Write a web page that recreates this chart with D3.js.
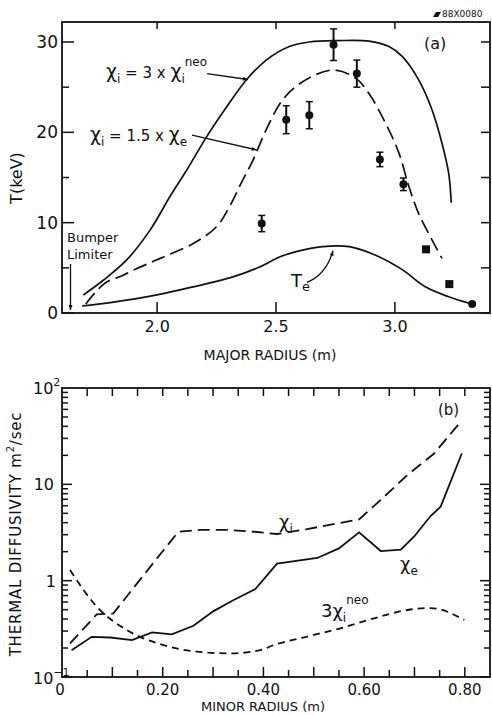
<!DOCTYPE html>
<html>
<head>
<meta charset="utf-8">
<script src="https://cdn.jsdelivr.net/npm/d3@7"></script>
<style>
body { margin: 0; background: #fff; }
svg text { font-family: "DejaVu Sans", sans-serif; fill: #111; }
</style>
</head>
<body>
<svg width="492" height="715"></svg>
<script>

// ---- panel (a): temperature profiles vs major radius ----
var rNeo3 = [1.69, 1.775, 1.873, 1.971, 2.054, 2.124, 2.208, 2.292, 2.375, 2.459, 2.556, 2.64, 2.76, 2.891, 2.975, 3.031, 3.10, 3.156, 3.198, 3.226, 3.237];
var tNeo3 = [2.0, 3.65, 5.9, 9.2, 12.9, 15.8, 19.5, 22.8, 25.8, 28.0, 29.5, 30.0, 30.15, 30.1, 29.5, 28.4, 25.8, 22.5, 18.8, 15.5, 12.2];

var rChiE = [1.70, 1.78, 1.85, 1.901, 2.013, 2.152, 2.25, 2.305, 2.354, 2.403, 2.459, 2.528, 2.612, 2.738, 2.835, 2.891, 2.961, 3.017, 3.059, 3.10, 3.156, 3.198];
var tChiE = [1.0, 3.3, 4.1, 4.75, 6.05, 7.7, 9.55, 11.8, 14.4, 16.9, 20.3, 23.6, 25.6, 26.9, 26.0, 24.3, 21.0, 17.7, 14.0, 11.0, 8.1, 6.05];

var rTe = [1.685, 1.803, 1.999, 2.152, 2.319, 2.431, 2.515, 2.585, 2.696, 2.808, 2.919, 3.031, 3.128, 3.226, 3.323];
var tTe = [0.78, 1.15, 2.0, 2.9, 4.0, 5.1, 6.2, 6.8, 7.35, 7.35, 6.4, 4.8, 2.9, 1.8, 1.0];

// measured Ti (circles with error bars, then squares)
var ionR = [2.44, 2.543, 2.64, 2.742, 2.84, 2.937, 3.036, 3.325];
var ionT = [9.9, 21.4, 21.9, 29.7, 26.5, 17.0, 14.25, 1.0];
var ionErr = [0.9, 1.55, 1.5, 1.75, 1.5, 0.8, 0.7, 0];
var sqR = [3.131, 3.229];
var sqT = [7.05, 3.2];

var ticksMajorR = [2.0, 2.5, 3.0];
var ticksTemp = [0, 10, 20, 30];

// ---- panel (b): thermal diffusivity vs minor radius ----
var rChiI = [0.016, 0.069, 0.102, 0.162, 0.231, 0.275, 0.328, 0.381, 0.427, 0.487, 0.59, 0.633, 0.686, 0.739, 0.792];
var vChiI = [0.223, 0.447, 0.457, 1.14, 3.22, 3.36, 3.36, 3.22, 3.05, 3.43, 4.33, 6.9, 12.5, 20.9, 44.7];

var rChiEl = [0.019, 0.059, 0.096, 0.139, 0.179, 0.218, 0.261, 0.301, 0.341, 0.384, 0.427, 0.507, 0.55, 0.59, 0.633, 0.673, 0.699, 0.732, 0.752, 0.794];
var vChiEl = [0.19, 0.261, 0.257, 0.242, 0.29, 0.277, 0.34, 0.483, 0.63, 0.818, 1.5, 1.72, 2.16, 3.17, 2.03, 2.1, 2.86, 4.69, 5.86, 20.9];

var rNeoB = [0.016, 0.069, 0.129, 0.202, 0.268, 0.334, 0.394, 0.42, 0.487, 0.553, 0.62, 0.686, 0.732, 0.799];
var vNeoB = [1.29, 0.537, 0.307, 0.214, 0.183, 0.176, 0.19, 0.214, 0.263, 0.32, 0.407, 0.496, 0.52, 0.39];

var ticksMinorR = [0, 0.2, 0.4, 0.6, 0.8];
var tickLabelsMinorR = ["0", "0.20", "0.40", "0.60", "0.80"];


var svg = d3.select('svg');
var ink = '#111';

svg.append('defs').append('marker').attr('id', 'arr')
	.attr('viewBox', '0 0 10 10').attr('refX', 10).attr('refY', 5)
	.attr('markerWidth', 9).attr('markerHeight', 5).attr('markerUnits', 'userSpaceOnUse')
	.attr('orient', 'auto')
	.append('path').attr('d', 'M0,1 L10,5 L0,9 Z').attr('fill', ink);

// helper for text with sub/superscripts: parts = [[text, size, dy], ...]
function rich(g, x, y, parts, anchor) {
	var t = g.append('text').attr('x', x).attr('y', y).attr('text-anchor', anchor || 'start');
	parts.forEach(function (p) {
		t.append('tspan').attr('font-size', p[1]).attr('dy', p[2] || 0).text(p[0]);
	});
	return t;
}

function zip(xs, ys) {
	return xs.map(function (x, i) { return [x, ys[i]]; });
}


/*
	Panel (a)
*/
var xa = d3.scaleLinear().domain([1.6, 3.4]).range([62, 490]);
var ya = d3.scaleLinear().domain([0, 30]).range([313, 42]);
var topA = 22;

var ga = svg.append('g');

ga.append('rect').attr('x', xa(1.6)).attr('y', topA)
	.attr('width', xa(3.4) - xa(1.6)).attr('height', ya(0) - topA)
	.attr('fill', 'none').attr('stroke', ink).attr('stroke-width', 1.8);

// x ticks, top and bottom
ticksMajorR.forEach(function (v) {
	ga.append('line').attr('x1', xa(v)).attr('x2', xa(v)).attr('y1', ya(0)).attr('y2', ya(0) - 11)
		.attr('stroke', ink).attr('stroke-width', 1.5);
	ga.append('line').attr('x1', xa(v)).attr('x2', xa(v)).attr('y1', topA).attr('y2', topA + 7)
		.attr('stroke', ink).attr('stroke-width', 1.5);
	ga.append('text').attr('x', xa(v)).attr('y', 332).attr('text-anchor', 'middle')
		.attr('font-size', 16).text(v.toFixed(1));
});

// y ticks, left and right
d3.range(0, 31, 5).forEach(function (v) {
	var major = v % 10 === 0;
	ga.append('line').attr('x1', xa(1.6)).attr('x2', xa(1.6) + (major ? 12 : 7))
		.attr('y1', ya(v)).attr('y2', ya(v)).attr('stroke', ink).attr('stroke-width', 1.5);
	ga.append('line').attr('x1', xa(3.4)).attr('x2', xa(3.4) - 9)
		.attr('y1', ya(v)).attr('y2', ya(v)).attr('stroke', ink).attr('stroke-width', 1.5);
});
ticksTemp.forEach(function (v) {
	ga.append('text').attr('x', 58).attr('y', ya(v) + 6).attr('text-anchor', 'end')
		.attr('font-size', 17).text(v);
});

ga.append('text').attr('transform', 'translate(22,178) rotate(-90)').attr('text-anchor', 'middle')
	.attr('font-size', 16).text('T(keV)');
ga.append('text').attr('x', 270).attr('y', 360).attr('text-anchor', 'middle')
	.attr('font-size', 14).text('MAJOR RADIUS (m)');

var lineA = d3.line().x(function (d) { return xa(d[0]); }).y(function (d) { return ya(d[1]); })
	.curve(d3.curveCatmullRom.alpha(0.5));

ga.append('path').attr('d', lineA(zip(rNeo3, tNeo3)))
	.attr('fill', 'none').attr('stroke', ink).attr('stroke-width', 1.7);
ga.append('path').attr('d', lineA(zip(rChiE, tChiE)))
	.attr('fill', 'none').attr('stroke', ink).attr('stroke-width', 1.7).attr('stroke-dasharray', '14,6');
ga.append('path').attr('d', lineA(zip(rTe, tTe)))
	.attr('fill', 'none').attr('stroke', ink).attr('stroke-width', 1.7);

// measured points
var pts = ga.append('g');
ionR.forEach(function (r, i) {
	var e = ionErr[i];
	if (e > 0) {
		pts.append('line').attr('x1', xa(r)).attr('x2', xa(r)).attr('y1', ya(ionT[i] - e)).attr('y2', ya(ionT[i] + e))
			.attr('stroke', ink).attr('stroke-width', 2);
		[-e, e].forEach(function (s) {
			pts.append('line').attr('x1', xa(r) - 3.5).attr('x2', xa(r) + 3.5)
				.attr('y1', ya(ionT[i] + s)).attr('y2', ya(ionT[i] + s))
				.attr('stroke', ink).attr('stroke-width', 1.5);
		});
	}
	pts.append('circle').attr('cx', xa(r)).attr('cy', ya(ionT[i])).attr('r', 4).attr('fill', ink);
});
sqR.forEach(function (r, i) {
	pts.append('rect').attr('x', xa(r) - 4).attr('y', ya(sqT[i]) - 4)
		.attr('width', 8).attr('height', 8).attr('fill', ink);
});

// annotations (a)
rich(ga, 106, 78, [['χ', 19], ['i', 12, 5], [' = 3 x ', 15, -5], ['χ', 19], ['i', 12, 5], ['neo', 12, -17]]);
ga.append('line').attr('x1', xa(2.21)).attr('y1', ya(26.5)).attr('x2', xa(2.382)).attr('y2', ya(25.85))
	.attr('stroke', ink).attr('stroke-width', 1.3).attr('marker-end', 'url(#arr)');

rich(ga, 90, 141, [['χ', 19], ['i', 12, 5], [' = 1.5 x ', 15, -5], ['χ', 19], ['e', 12, 5]]);
ga.append('line').attr('x1', xa(2.147)).attr('y1', ya(19.7)).attr('x2', xa(2.419)).attr('y2', ya(18.05))
	.attr('stroke', ink).attr('stroke-width', 1.3).attr('marker-end', 'url(#arr)');

ga.append('text').attr('x', 67).attr('y', 242).attr('font-size', 13).text('Bumper');
ga.append('text').attr('x', 67).attr('y', 259).attr('font-size', 13).text('Limiter');
ga.append('line').attr('x1', 70.5).attr('y1', 264).attr('x2', 70.5).attr('y2', 310)
	.attr('stroke', ink).attr('stroke-width', 1.3).attr('marker-end', 'url(#arr)');

rich(ga, 291, 287, [['T', 18], ['e', 13, 4]]);
ga.append('path')
	.attr('d', 'M' + xa(2.63) + ',' + ya(3.4) + ' Q' + xa(2.71) + ',' + ya(4.2) + ' ' + xa(2.74) + ',' + ya(6.9))
	.attr('fill', 'none').attr('stroke', ink).attr('stroke-width', 1.3).attr('marker-end', 'url(#arr)');

ga.append('text').attr('x', 424).attr('y', 49).attr('font-size', 16).text('(a)');

ga.append('path').attr('d', 'M433,17 L436,12 L441,12 L438,17 Z').attr('fill', ink);
ga.append('text').attr('x', 442).attr('y', 17).attr('font-size', 9).text('88X0080');


/*
	Panel (b)
*/
var xb = d3.scaleLinear().domain([0, 0.85]).range([62, 490]);
var yb = d3.scaleLog().domain([0.1, 100]).range([677, 388]);

var gb = svg.append('g');

gb.append('rect').attr('x', xb(0)).attr('y', yb(100))
	.attr('width', xb(0.85) - xb(0)).attr('height', yb(0.1) - yb(100))
	.attr('fill', 'none').attr('stroke', ink).attr('stroke-width', 1.8);

d3.range(1, 17).forEach(function (k) {
	var v = k * 0.05, major = k % 2 === 0;
	gb.append('line').attr('x1', xb(v)).attr('x2', xb(v)).attr('y1', yb(0.1)).attr('y2', yb(0.1) - (major ? 10 : 7))
		.attr('stroke', ink).attr('stroke-width', 1.5);
	gb.append('line').attr('x1', xb(v)).attr('x2', xb(v)).attr('y1', yb(100)).attr('y2', yb(100) + 8)
		.attr('stroke', ink).attr('stroke-width', 1.5);
});
ticksMinorR.forEach(function (v, i) {
	gb.append('text').attr('x', xb(v) - (i === 0 ? 2 : 0)).attr('y', 695).attr('text-anchor', 'middle')
		.attr('font-size', 15).text(tickLabelsMinorR[i]);
});

// log ticks: 1..9 in each decade
[0.1, 1, 10].forEach(function (dec) {
	d3.range(1, 10).forEach(function (m) {
		var v = dec * m, len = m === 1 ? 10 : 6;
		gb.append('line').attr('x1', xb(0)).attr('x2', xb(0) + len).attr('y1', yb(v)).attr('y2', yb(v))
			.attr('stroke', ink).attr('stroke-width', 1.5);
		gb.append('line').attr('x1', xb(0.85)).attr('x2', xb(0.85) - len).attr('y1', yb(v)).attr('y2', yb(v))
			.attr('stroke', ink).attr('stroke-width', 1.5);
	});
});

rich(gb, 33, yb(100) + 6, [['10', 16], ['2', 11, -8]]);
gb.append('text').attr('x', 54).attr('y', yb(10) + 6).attr('text-anchor', 'end').attr('font-size', 16).text('10');
gb.append('text').attr('x', 56).attr('y', yb(1) + 6).attr('text-anchor', 'end').attr('font-size', 16).text('1');
rich(gb, 33, yb(0.1) + 7, [['10', 16], ['−1', 11, -8]]);

gb.append('text').attr('transform', 'translate(21,534) rotate(-90)').attr('text-anchor', 'middle')
	.attr('font-size', 15).attr('letter-spacing', 0.8)
	.call(function (t) {
		t.append('tspan').text('THERMAL DIFFUSIVITY  m');
		t.append('tspan').attr('font-size', 10).attr('dy', -7).text('2');
		t.append('tspan').attr('dy', 7).text('/sec');
	});
gb.append('text').attr('x', 263).attr('y', 711).attr('text-anchor', 'middle')
	.attr('font-size', 13).text('MINOR RADIUS (m)');

var lineB = d3.line().x(function (d) { return xb(d[0]); }).y(function (d) { return yb(d[1]); });

gb.append('path').attr('d', lineB(zip(rChiI, vChiI)))
	.attr('fill', 'none').attr('stroke', ink).attr('stroke-width', 1.8).attr('stroke-dasharray', '12,6');
gb.append('path').attr('d', lineB(zip(rChiEl, vChiEl)))
	.attr('fill', 'none').attr('stroke', ink).attr('stroke-width', 1.8);
gb.append('path').attr('d', lineB.curve(d3.curveMonotoneX)(zip(rNeoB, vNeoB)))
	.attr('fill', 'none').attr('stroke', ink).attr('stroke-width', 1.8).attr('stroke-dasharray', '7,5');

rich(gb, 279, 528, [['χ', 18], ['i', 12, 5]]);
rich(gb, 400, 570, [['χ', 18], ['e', 12, 5]]);
rich(gb, 321, 617, [['3χ', 18], ['i', 12, 5], ['neo', 12, -18]]);

gb.append('text').attr('x', 438).attr('y', 415).attr('font-size', 15).text('(b)');

</script>
</body>
</html>
